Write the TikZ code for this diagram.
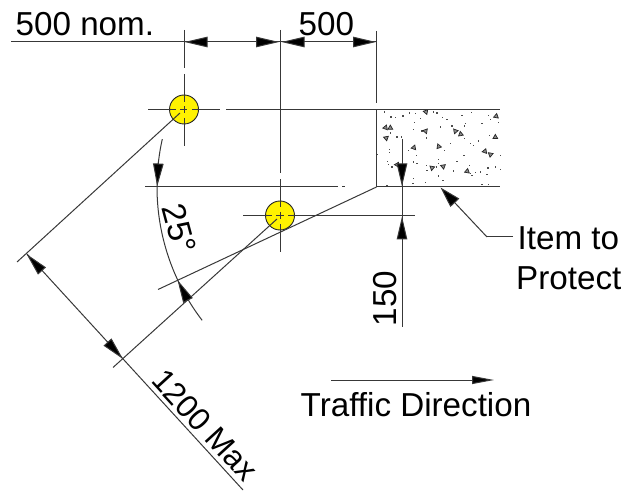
\documentclass[tikz,border=0pt]{standalone}
\usepackage{fontspec}
\setmainfont{Liberation Sans}
\usetikzlibrary{arrows.meta}
\tikzset{
  ln/.style={line width=1pt,draw=black!78},
  dimtip/.style={ln,-{Triangle[length=23pt,width=10.5pt,fill=black]}},
  leadtip/.style={ln,-{Triangle[length=21pt,width=12pt,fill=black]}},
  smalltip/.style={ln,-{Triangle[length=22pt,width=8pt,fill=black]}},
  lbl/.style={inner sep=0pt,anchor=base west,font=\fontsize{33.2}{35}\selectfont,text=black},
  pile/.style={circle,draw=black!85,line width=0.9pt,fill=yellow,minimum size=29pt,inner sep=0pt},
  speck/.style={fill=black!70},
  tri/.style={draw=black!85,line width=0.7pt}
}
\begin{document}
\begin{tikzpicture}[x=1pt,y=-1pt]
\useasboundingbox (0,0) rectangle (638,492);
% yellow posts
\node[pile] (p1) at (184,109.5) {};
\node[pile] (p2) at (280,215.5) {};
% concrete hatch
\foreach \zx/\zy in {38/30,57/45,70/47,93/42,113/33,130/35,145/50,128/62,125/82,150/87,163/108,185/30,195/33,212/47,225/53,205/75,240/72,270/40,298/32,280/65,278/72,330/65,350/40,355/52,380/62,352/100,278/110,295/125,305/130,320/117,235/125,218/145,276/160,385/160,110/145,133/160,52/143,52/152,47/178,50/188,60/195,125/180,135/185,163/190,165/205,200/172,200/185,193/195,255/178,245/207,292/190,295/215,310/212,325/210,348/198,345/218,370/195,385/203,200/222,213/235,125/230,123/245,160/242,300/220,330/248,350/248,45/250,88/105,75/105,55/93,16/157}
  \fill[speck] ({372+\zx/3-0.6},{102+\zy/3-0.6}) rectangle ++(1.3,1.3);
\foreach \zx/\zy/\ang in {162/30/200,40/77/100,55/77/0,42/108/70,160/87/80,250/88/160,266/96/10,372/43/110,370/105/0,125/137/100,200/133/20,338/148/100,355/157/50,75/188/90,180/198/170,213/193/70,285/208/110}
  \draw[tri,fill=black!45,rotate around={\ang:({372+\zx/3},{102+\zy/3})}]
    ({372+\zx/3},{102+\zy/3-2.6}) -- ++(2.4,4.2) -- ++(-4.8,0) -- cycle;
% top dimension line and its extension lines
\coordinate (dimL) at (11,42);
\coordinate (dimR) at (377,42);
\draw[ln] (dimL) -- (dimR);
\draw[ln] (184,30) -- (184,68);
\draw[ln] (184,74) -- (184,102);
\draw[ln] (184,106.5) -- (184,113);
\draw[ln] (184,118) -- (184,146);
\draw[ln] (280,30) -- (280,173.5);
\draw[ln] (280,179.5) -- (280,207.5);
\draw[ln] (280,212) -- (280,219);
\draw[ln] (280,224) -- (280,252);
\draw[ln] (376.5,31) -- (376.5,103);
\draw[dimtip] (208,42) -- (184.5,42);
\draw[dimtip] (256,42) -- (279,42);
\draw[dimtip] (305,42) -- (281.5,42);
\draw[dimtip] (352,42) -- (376,42);
% horizontal setting-out lines
\draw[ln] (148,109.5) -- (176,109.5);
\draw[ln] (180,109.5) -- (187,109.5);
\draw[ln] (192,109.5) -- (220,109.5);
\draw[ln] (226,109.5) -- (500,109.5);
\draw[ln] (145,187) -- (338,187);
\draw[ln] (342,187) -- (345,187);
\draw[ln] (376.5,187) -- (500,187);
\draw[ln] (376.5,109.5) -- (376.5,187);
\draw[ln] (243,215.5) -- (272,215.5);
\draw[ln] (276,215.5) -- (284,215.5);
\draw[ln] (288,215.5) -- (415,215.5);
% slanted lines
\draw[ln] (180,113) -- (17,262);
\draw[ln] (277,219) -- (113,367.5);
\draw[ln] (376.5,187) -- (158,289.5);
% 1200 dimension
\draw[ln] (27,254) -- (243,490);
\draw[dimtip] (42,271) -- (26.5,254);
\draw[dimtip] (107,341.5) -- (123,359);
% 25 degree arc
\draw[ln] plot[domain=167.4:217.4,samples=60,smooth] ({376.5+219.5*cos(\x)},{187-219.5*sin(\x)});
\draw[dimtip] (158.4,162) -- (157.2,186.5);
\draw[dimtip] (188,300.5) -- (177.5,280);
% 150 dimension
\draw[ln] (402,139) -- (402,327);
\draw[dimtip] (402,163) -- (402,186.5);
\draw[dimtip] (402,240) -- (402,216.5);
% leader
\coordinate (leadA) at (513,237);
\coordinate (leadB) at (487,237);
\coordinate (leadC) at (440.5,187.5);
\draw[ln] (leadA) -- (leadB);
\draw[leadtip] (leadB) -- (leadC);
% traffic arrow
\draw[ln] (331,380) -- (480,380);
\draw[smalltip] (472,380) -- (494,380);
% labels
\node[lbl] (t500n) at (15.5,36) {500 nom.};
\node[lbl] (t500) at (298.5,36) {500};
\node[lbl,rotate=90] (t150) at (396,326.5) {150};
\node[lbl] (titem) at (517.5,250) {Item to};
\node[lbl] (tprot) at (516,290) {Protect};
\node[lbl] (ttraf) at (300.5,416) {Traffic Direction};
\node[lbl,rotate=-75] (t25) at (161.5,207) {25°};
\node[lbl,font=\fontsize{31.6}{33}\selectfont,rotate=-47.6] (t1200) at (150,381) {1200 Max};
\end{tikzpicture}
\end{document}
